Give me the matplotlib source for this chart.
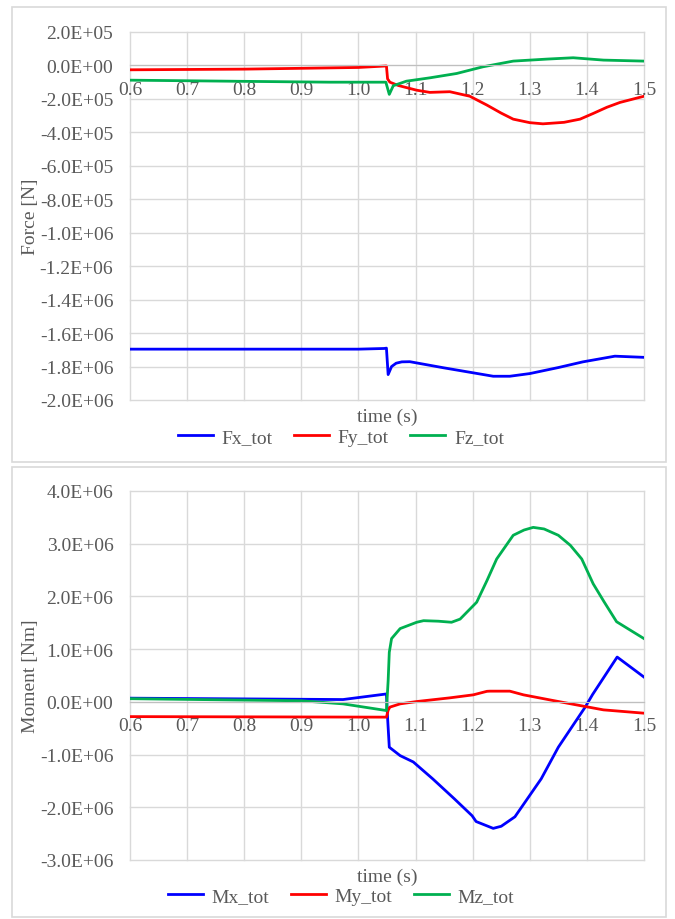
import matplotlib
matplotlib.use("Agg")
import matplotlib.pyplot as plt
from matplotlib.patches import Rectangle
from matplotlib.ticker import FuncFormatter, MultipleLocator

# --- data --------------------------------------------------------------------
t_fx = [0.6, 1.0, 1.045, 1.049, 1.052, 1.058, 1.066, 1.076, 1.09, 1.15, 1.2,
        1.236, 1.265, 1.3, 1.35, 1.393, 1.449, 1.5]
fx = [-1.696e6, -1.696e6, -1.692e6, -1.69e6, -1.848e6, -1.80e6, -1.78e6,
      -1.772e6, -1.771e6, -1.808e6, -1.837e6, -1.858e6, -1.858e6, -1.842e6,
      -1.806e6, -1.772e6, -1.738e6, -1.745e6]

t_fy = [0.6, 0.8, 1.0, 1.049, 1.051, 1.055, 1.07, 1.102, 1.125, 1.16, 1.195,
        1.225, 1.25, 1.271, 1.3, 1.323, 1.36, 1.388, 1.411, 1.435, 1.458, 1.5]
fy = [-2.6e4, -2.2e4, -1.2e4, -3e3, -8e4, -1.0e5, -1.2e5, -1.48e5, -1.61e5,
      -1.57e5, -1.84e5, -2.37e5, -2.85e5, -3.21e5, -3.42e5, -3.49e5, -3.40e5,
      -3.21e5, -2.87e5, -2.5e5, -2.21e5, -1.84e5]

t_fz = [0.6, 0.8, 0.95, 1.048, 1.054, 1.061, 1.084, 1.125, 1.172, 1.218,
        1.271, 1.33, 1.376, 1.429, 1.5]
fz = [-8.8e4, -9.5e4, -1.0e5, -1.0e5, -1.73e5, -1.21e5, -9.4e4, -7.4e4,
      -4.8e4, -8e3, 2.6e4, 3.8e4, 4.6e4, 3.2e4, 2.6e4]

t_mx = [0.6, 0.973, 1.049, 1.051, 1.054, 1.073, 1.096, 1.13, 1.168, 1.199,
        1.206, 1.236, 1.25, 1.274, 1.32, 1.35, 1.397, 1.41, 1.453, 1.5]
mx = [7e4, 4.4e4, 1.5e5, -3e5, -8.6e5, -1.02e6, -1.14e6, -1.46e6, -1.84e6,
      -2.16e6, -2.27e6, -2.40e6, -2.36e6, -2.18e6, -1.46e6, -0.86e6, -1.0e5,
      1.4e5, 8.5e5, 4.7e5]

t_my = [0.6, 1.049, 1.052, 1.055, 1.073, 1.102, 1.16, 1.201, 1.225, 1.23,
        1.265, 1.289, 1.341, 1.388, 1.429, 1.5]
my = [-2.8e5, -2.9e5, -1.6e5, -1.0e5, -3.8e4, 6e3, 7.6e4, 1.33e5, 2.0e5,
      2.03e5, 2.03e5, 1.33e5, 2.5e4, -7e4, -1.52e5, -2.15e5]

t_mz = [0.6, 0.9, 0.973, 1.049, 1.052, 1.054, 1.058, 1.073, 1.102, 1.114,
        1.14, 1.163, 1.178, 1.207, 1.225, 1.242, 1.271, 1.29, 1.306, 1.325,
        1.35, 1.371, 1.391, 1.411, 1.43, 1.452, 1.5]
mz = [6e4, 2e4, -3.8e4, -1.65e5, 4e5, 9.4e5, 1.2e6, 1.39e6, 1.51e6, 1.54e6,
      1.53e6, 1.51e6, 1.57e6, 1.89e6, 2.3e6, 2.71e6, 3.16e6, 3.26e6, 3.31e6,
      3.28e6, 3.16e6, 2.97e6, 2.71e6, 2.24e6, 1.9e6, 1.52e6, 1.2e6]

BLUE, RED, GREEN = "#0000FF", "#FF0000", "#00B050"
TXT = "#595959"
GRID = "#D9D9D9"
FS = 14

plt.rcParams["font.family"] = ["Liberation Serif", "DejaVu Serif"]
plt.rcParams["font.size"] = FS

W, H = 675, 920
fig = plt.figure(figsize=(W / 100, H / 100), dpi=100)


def px_axes(left, top, right, bottom):
    return fig.add_axes([left / W, 1 - bottom / H, (right - left) / W,
                         (bottom - top) / H])


def box(left, top, right, bottom):
    fig.patches.append(Rectangle((left / W, 1 - bottom / H), (right - left) / W,
                                 (bottom - top) / H, transform=fig.transFigure,
                                 fill=False, edgecolor=GRID, lw=1.2))


def style(ax, ymin, ymax, ystep):
    ax.set_xlim(0.6, 1.5)
    ax.set_ylim(ymin, ymax)
    ax.xaxis.set_major_locator(MultipleLocator(0.1))
    ax.yaxis.set_major_locator(MultipleLocator(ystep))
    ax.xaxis.set_major_formatter(FuncFormatter(lambda v, p: f"{v:.1f}"))
    ax.yaxis.set_major_formatter(FuncFormatter(lambda v, p: f"{v:.1E}"))
    ax.grid(True, color=GRID, lw=1.0)
    ax.set_axisbelow(True)
    for s in ("top", "left", "right"):
        ax.spines[s].set_visible(False)
    ax.spines["bottom"].set_position(("data", 0))
    ax.spines["bottom"].set_color("#BFBFBF")
    ax.tick_params(length=0, colors=TXT, labelsize=FS)
    ax.tick_params(axis="x", pad=11)
    ax.tick_params(axis="y", pad=12)
    for gl in ax.get_xgridlines() + ax.get_ygridlines():
        gl.set_clip_on(False)


# --- force panel ---
box(12, 8, 666, 463)
ax1 = px_axes(130, 33, 644, 401)
l1, = ax1.plot(t_fx, fx, color=BLUE, lw=2, label="Fx_tot")
l2, = ax1.plot(t_fy, fy, color=RED, lw=2, label="Fy_tot")
l3, = ax1.plot(t_fz, fz, color=GREEN, lw=2, label="Fz_tot")
style(ax1, -2.0e6, 2.0e5, 2.0e5)
ax1.text(0.5, -0.044, "time (s)", transform=ax1.transAxes, ha="center",
         va="center", color=TXT, fontsize=FS)
fig.text(30 / W, 1 - 217 / H, "Force [N]", rotation=90, ha="center",
         va="center", color=TXT, fontsize=FS)
fig.legend(handles=[l1, l2, l3], loc="center", bbox_to_anchor=(0.505, 1 - 438 / H),
           ncol=3, frameon=False, handlelength=1.8, handletextpad=0.45,
           columnspacing=1.1, labelcolor=TXT, fontsize=FS)

# --- moment panel ---
box(12, 468, 666, 918)
ax2 = px_axes(130, 492, 644, 861)
m1, = ax2.plot(t_mx, mx, color=BLUE, lw=2, label="Mx_tot")
m2, = ax2.plot(t_my, my, color=RED, lw=2, label="My_tot")
m3, = ax2.plot(t_mz, mz, color=GREEN, lw=2, label="Mz_tot")
style(ax2, -3.0e6, 4.0e6, 1.0e6)
ax2.text(0.5, -0.044, "time (s)", transform=ax2.transAxes, ha="center",
         va="center", color=TXT, fontsize=FS)
fig.text(30 / W, 1 - 676 / H, "Moment [Nm]", rotation=90, ha="center",
         va="center", color=TXT, fontsize=FS)
fig.legend(handles=[m1, m2, m3], loc="center", bbox_to_anchor=(0.505, 1 - 897 / H),
           ncol=3, frameon=False, handlelength=1.8, handletextpad=0.45,
           columnspacing=1.1, labelcolor=TXT, fontsize=FS)

fig.savefig("out.png", dpi=100)
